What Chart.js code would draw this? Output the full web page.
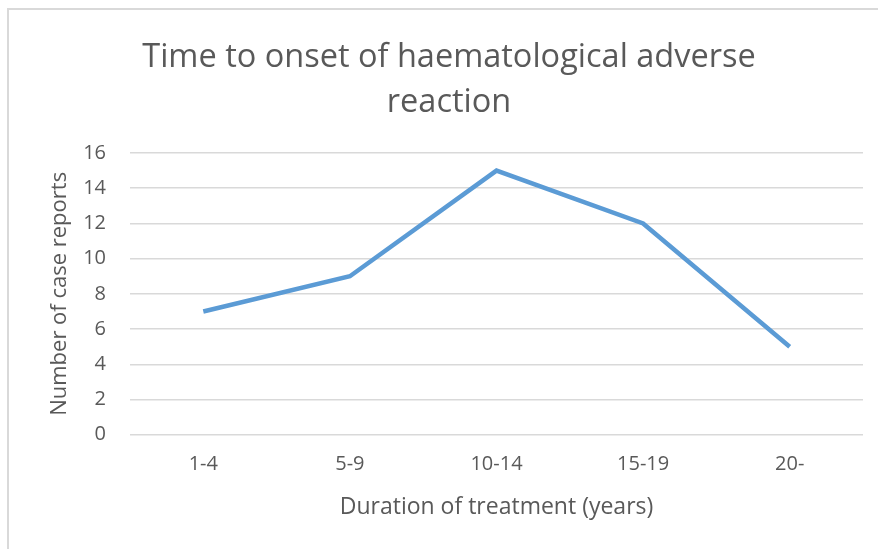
<!DOCTYPE html>
<html>
<head>
<meta charset="utf-8">
<script src="https://cdn.jsdelivr.net/npm/chart.js@4"></script>
<style>
    html, body { margin: 0; padding: 0; background: #fff; }
    #wrap { position: relative; width: 878px; height: 549px; overflow: hidden; }
    #frame { position: absolute; left: 7px; top: 8px; width: 900px; height: 600px; border: 2px solid #d9d9d9; box-sizing: border-box; }
    canvas { position: absolute; left: 0; top: 0; }
</style>
</head>
<body>
<div id="wrap">
    <div id="frame"></div>
    <canvas id="chart" width="878" height="549"></canvas>
</div>
<script>
// 数据
const durations = ['1-4', '5-9', '10-14', '15-19', '20-'];
const caseReports = [7, 9, 15, 12, 5];
const titleLines = ['Time to onset of haematological adverse', 'reaction'];

const textColor = '#595959';
const fontFamily = '"Open Sans", Lato, sans-serif';

const ctx = document.getElementById('chart').getContext('2d');
new Chart(ctx, {
    type: 'line',
    data: {
        labels: durations,
        datasets: [{
            data: caseReports,
            borderColor: '#5b9bd5',
            borderWidth: 4.5,
            pointRadius: 0,
            tension: 0,
            fill: false
        }]
    },
    options: {
        responsive: false,
        animation: false,
        layout: {
            padding: { left: 35, right: 15, top: 8, bottom: 29 }
        },
        plugins: {
            legend: { display: false },
            tooltip: { enabled: false },
            title: {
                display: true,
                text: titleLines,
                color: textColor,
                font: { family: fontFamily, size: 32.5, weight: 'normal', lineHeight: 1.385 },
                padding: { top: 27, bottom: 28 }
            }
        },
        scales: {
            x: {
                offset: true,
                grid: { display: false, drawTicks: false },
                border: { display: false },
                ticks: {
                    color: textColor,
                    font: { family: fontFamily, size: 20 },
                    padding: 18
                },
                title: {
                    display: true,
                    text: 'Duration of treatment (years)',
                    color: textColor,
                    font: { family: fontFamily, size: 23, lineHeight: 1.1 },
                    padding: { top: 0, bottom: 0 }
                }
            },
            y: {
                min: 0,
                max: 16,
                ticks: {
                    stepSize: 2,
                    color: textColor,
                    font: { family: fontFamily, size: 20 },
                    padding: 24
                },
                grid: { color: '#d9d9d9', lineWidth: 1.5, drawTicks: false },
                border: { display: false },
                title: {
                    display: true,
                    text: 'Number of case reports',
                    color: textColor,
                    font: { family: fontFamily, size: 22 },
                    padding: { top: 12, bottom: 0 }
                },
                afterFit: (scale) => { scale.width = 95; }
            }
        }
    }
});
</script>
</body>
</html>
